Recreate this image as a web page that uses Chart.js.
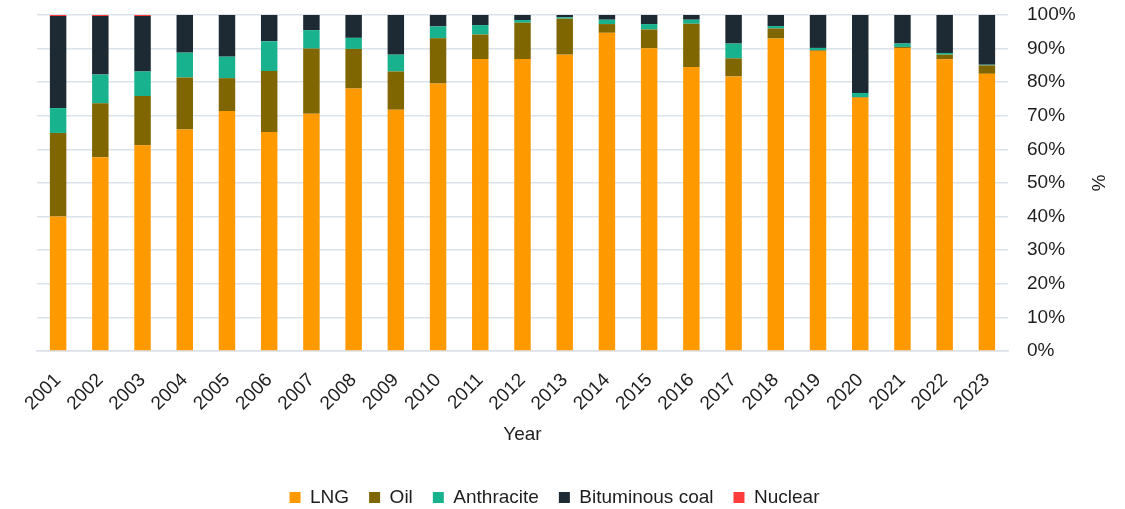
<!DOCTYPE html>
<html>
<head>
<meta charset="utf-8">
<script src="https://cdn.jsdelivr.net/npm/chart.js@4"></script>
<style>
  html, body { margin: 0; padding: 0; background: #ffffff; }
  #wrap { width: 1125px; height: 509px; position: relative; }
</style>
</head>
<body>
<div id="wrap"><canvas id="c"></canvas></div>
<script>
// Power generation fuel shares by year (%)
const years = ['2001','2002','2003','2004','2005','2006','2007','2008','2009','2010','2011','2012',
               '2013','2014','2015','2016','2017','2018','2019','2020','2021','2022','2023'];

const lng        = [40.0, 57.7, 61.2, 65.9, 71.4, 65.2, 70.6, 78.1, 71.8, 79.6, 86.9, 86.9,
                    88.2, 94.7, 90.1, 84.5, 81.7, 93.0, 89.3, 75.4, 90.2, 86.8, 82.5];
const oil        = [24.9, 16.0, 14.7, 15.5,  9.8, 18.1, 19.4, 11.8, 11.4, 13.5,  7.3, 10.8,
                    10.7,  2.6,  5.6, 12.9,  5.4,  3.0,  0.2,  0.2,  0.3,  1.4,  2.5];
const anthracite = [ 7.4,  8.6,  7.3,  7.4,  6.4,  8.9,  5.5,  3.3,  5.0,  3.5,  2.8,  0.8,
                     0.4,  1.3,  1.6,  1.2,  4.4,  0.7,  0.7,  1.2,  1.0,  0.5,  0.2];
const bituminous = [27.4, 17.4, 16.5, 11.2, 12.4,  7.8,  4.5,  6.8, 11.8,  3.4,  3.0,  1.5,
                     0.7,  1.4,  2.7,  1.4,  8.5,  3.3,  9.8, 23.2,  8.5, 11.3, 14.8];
const nuclear    = [ 0.3,  0.3,  0.3,  0,    0,    0,    0,    0,    0,    0,    0,    0,
                     0,    0,    0,    0,    0,    0,    0,    0,    0,    0,    0  ];

const yTicks = [0, 10, 20, 30, 40, 50, 60, 70, 80, 90, 100];

const FONT = "'Liberation Sans', Arial, Helvetica, sans-serif";
const TEXT = '#1e1e1e';
const GRID = '#dbe2ea';
const FS = 19;

function ds(label, data, color) {
  return {
    label, data,
    backgroundColor: color,
    borderWidth: 0,
    categoryPercentage: 1.0,
    barPercentage: 0.39,
    yAxisID: 'y'
  };
}

new Chart(document.getElementById('c'), {
  type: 'bar',
  data: {
    labels: years,
    datasets: [
      ds('LNG', lng, '#ff9900'),
      ds('Oil', oil, '#806600'),
      ds('Anthracite', anthracite, '#18b28e'),
      ds('Bituminous coal', bituminous, '#1d2933'),
      ds('Nuclear', nuclear, '#ff3b3b')
    ]
  },
  options: {
    responsive: true,
    maintainAspectRatio: false,
    animation: false,
    layout: { padding: { top: 15, right: 16, bottom: 3, left: 0 } },
    plugins: {
      tooltip: { enabled: false },
      legend: {
        position: 'bottom',
        maxHeight: 38,
        labels: {
          font: { family: FONT, size: FS },
          color: TEXT,
          boxWidth: 11,
          boxHeight: 11,
          padding: 20
        }
      }
    },
    scales: {
      x: {
        stacked: true,
        grid: { display: false, drawTicks: false },
        border: { display: true, color: GRID, width: 1.5 },
        ticks: {
          font: { family: FONT, size: FS },
          color: TEXT,
          autoSkip: false,
          minRotation: 45,
          maxRotation: 45,
          padding: 18
        },
        title: {
          display: true,
          text: 'Year',
          font: { family: FONT, size: FS },
          color: TEXT,
          padding: { top: 0, bottom: 22 }
        },
        afterFit: s => { s.height = 117; }
      },
      y: {
        stacked: true,
        position: 'right',
        min: 0,
        max: 100,
        afterBuildTicks: s => { s.ticks = yTicks.map(v => ({ value: v })); },
        grid: { color: GRID, lineWidth: 1.5, drawTicks: false },
        border: { display: false },
        ticks: {
          font: { family: FONT, size: FS },
          color: TEXT,
          padding: 19,
          callback: v => v + '%'
        },
        title: {
          display: true,
          text: '%',
          font: { family: FONT, size: FS },
          color: TEXT,
          padding: { top: 0, bottom: 0 }
        },
        afterFit: s => {
          s.width = 101;
          s.paddingTop = 0;
          s.paddingBottom = 0;
        }
      },
      // empty axis reserving the left margin of the plot
      yl: {
        position: 'left',
        display: true,
        min: 0,
        max: 100,
        grid: { display: false, drawTicks: false },
        border: { display: false },
        ticks: { display: false },
        afterFit: s => {
          s.width = 37;
          s.paddingTop = 0;
          s.paddingBottom = 0;
        }
      }
    }
  }
});
</script>
</body>
</html>
